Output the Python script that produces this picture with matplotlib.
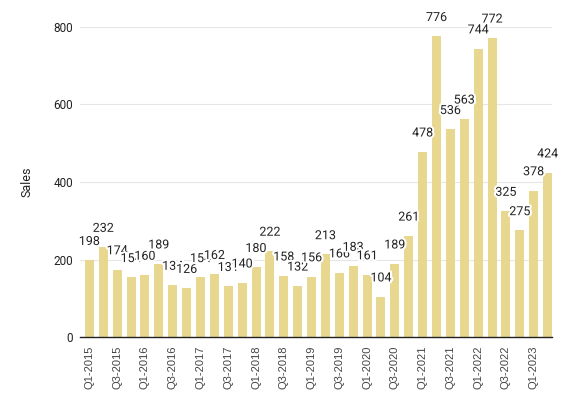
import numpy as np
import matplotlib.pyplot as plt
import matplotlib.patheffects as pe

# quarterly sales, Q1-2015 .. Q2-2023
quarters = [f"Q{q}-{y}" for y in range(2015, 2024) for q in range(1, 5)][:34]
sales = [198, 232, 174, 154, 160, 189, 134, 126, 154, 162, 131, 140,
         180, 222, 158, 132, 156, 213, 166, 183, 161, 104, 189, 261,
         478, 776, 536, 563, 744, 772, 325, 275, 378, 424]
yticks = [0, 200, 400, 600, 800]

bar_color = '#e7d78f'

fig = plt.figure(figsize=(5.77, 4.12), dpi=100)
ax = fig.add_axes([0.1386, 0.182, 0.8181, 0.7525])

x = np.arange(len(sales))
ax.bar(x, sales, width=0.65, color=bar_color, zorder=2)

# value labels, later ones drawn over earlier ones with a white halo
for i, v in enumerate(sales):
    ax.annotate(str(v), (i, v), xytext=(0, 11), textcoords='offset points',
                ha='center', va='baseline', fontsize=9, family='Roboto',
                color='#222222', clip_on=False, zorder=3 + i,
                path_effects=[pe.withStroke(linewidth=3, foreground='white')])

ax.set_xlim(-0.68, 33.32)
ax.set_ylim(0, 800)
ax.set_yticks(yticks)
ax.set_yticklabels([str(t) for t in yticks], family='Roboto', fontsize=8.5,
                   color='#222222')
ax.set_xticks(x[::2])
ax.set_xticklabels(quarters[::2], rotation=90, family='Liberation Sans',
                   fontsize=8, color='#444444')
ax.tick_params(axis='both', length=0)
ax.tick_params(axis='y', pad=5)
ax.tick_params(axis='x', pad=6)

ax.grid(axis='y', color='#e6e6e6', linewidth=0.8, zorder=0)
ax.set_axisbelow(True)
for s in ['top', 'right', 'left']:
    ax.spines[s].set_visible(False)
ax.spines['bottom'].set_color('#222222')
ax.spines['bottom'].set_linewidth(1)
ax.spines['bottom'].set_zorder(4)

ax.set_ylabel('Sales', family='Roboto', fontsize=9, color='#222222')
ax.yaxis.set_label_coords(-0.0975, 0.5)

plt.savefig('out.png', dpi=100)
